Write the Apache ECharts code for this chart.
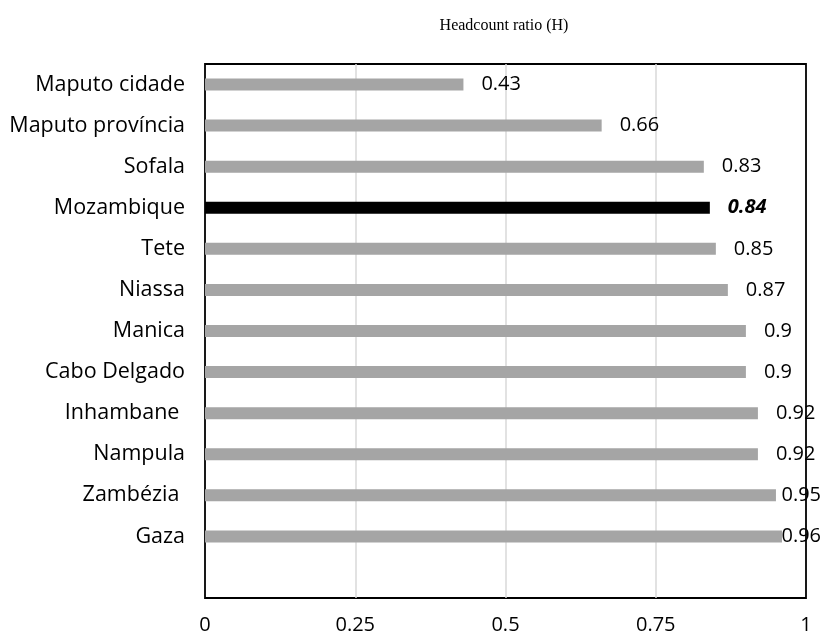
<!DOCTYPE html>
<html>
<head>
<meta charset="utf-8">
<script src="https://cdn.jsdelivr.net/npm/echarts@6/dist/echarts.min.js"></script>
<style>html,body{margin:0;padding:0;background:#fff}#c{width:822px;height:640px}</style>
</head>
<body>
<div id="c"></div>
<script>
var categories = ["Maputo cidade","Maputo província","Sofala","Mozambique","Tete","Niassa","Manica","Cabo Delgado","Inhambane ","Nampula","Zambézia ","Gaza",""];
var values = [0.43,0.66,0.83,0.84,0.85,0.87,0.9,0.9,0.92,0.92,0.95,0.96,null];
var xTicks = [0,0.25,0.5,0.75,1];
var highlight = "Mozambique";

var FONT = 'Open Sans';
var LABEL_SIZE = 20;
var chart = echarts.init(document.getElementById('c'));

function buildData(distances){
  return values.map(function(v,i){
    var item = {value:v};
    if (categories[i] === highlight) {
      item.itemStyle = {color:'#000000'};
      item.label = {fontWeight:'bold', fontStyle:'italic'};
    }
    if (distances) {
      item.label = item.label || {};
      item.label.distance = distances[i];
    }
    return item;
  });
}

chart.setOption({
  animation:false,
  title:{text:'Headcount ratio (H)', left:499, top:13, textAlign:'center',
    textStyle:{fontFamily:'Liberation Serif', fontSize:16, fontWeight:'normal', color:'#000'}},
  grid:{left:205, right:16, top:64, bottom:42, show:true, borderColor:'#000', borderWidth:1.8, backgroundColor:'transparent'},
  xAxis:{type:'value', min:0, max:1, interval:0.25,
    axisLine:{show:false}, axisTick:{show:false},
    splitLine:{show:true, showMinLine:false, showMaxLine:false, lineStyle:{color:'#d9d9d9', width:1.5}},
    axisLabel:{margin:17, fontFamily:FONT, fontSize:LABEL_SIZE, color:'#000',
      formatter:function(v){ return xTicks.indexOf(v)>=0 ? String(v) : ''; }}},
  yAxis:{type:'category', data:categories, inverse:true,
    axisLine:{show:false}, axisTick:{show:false},
    axisLabel:{margin:20, fontFamily:FONT, fontSize:21.5, color:'#000'}},
  series:[{type:'bar', data:buildData(null), barWidth:12, itemStyle:{color:'#a5a5a5'}, z:1,
    label:{show:true, position:'right', distance:18, fontFamily:FONT, fontSize:LABEL_SIZE, color:'#000',
      formatter:function(p){ return p.value==null ? '' : String(p.value); }}}]
});

// keep labels inside the chart's width, like the original
var cv = document.createElement('canvas').getContext('2d');
var dists = values.map(function(v,i){
  if (v == null) return 18;
  var bold = categories[i] === highlight;
  cv.font = (bold ? 'italic bold ' : '') + LABEL_SIZE + 'px "' + FONT + '"';
  var w = cv.measureText(String(v)).width;
  var px = chart.convertToPixel({xAxisIndex:0}, v);
  return Math.min(18, 822 - 1 - w - px);
});
chart.setOption({series:[{data:buildData(dists)}]});
</script>
</body>
</html>
